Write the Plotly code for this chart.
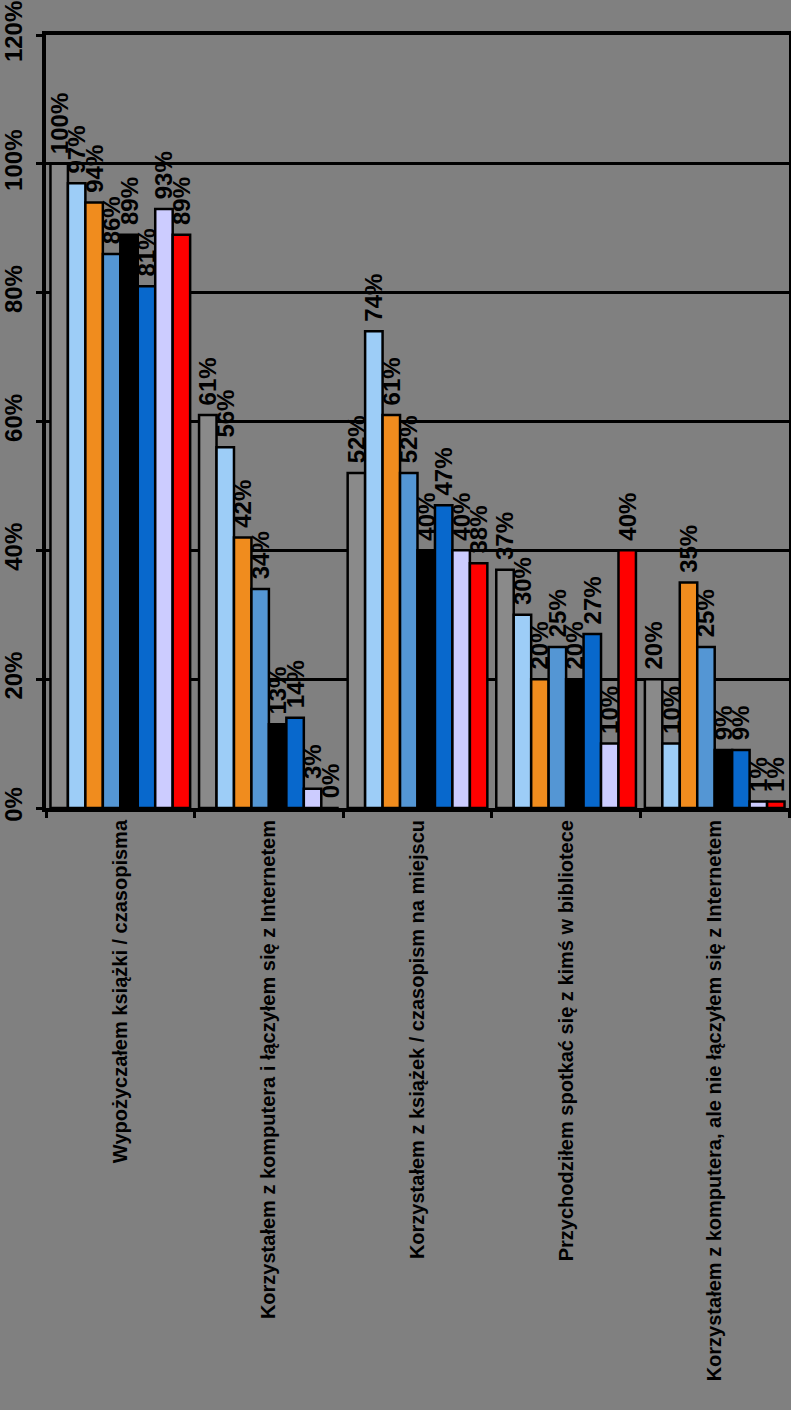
import plotly.graph_objects as go

categories = [
    "Wypożyczałem książki / czasopisma",
    "Korzystałem z komputera i łączyłem się z Internetem",
    "Korzystałem z książek / czasopism na miejscu",
    "Przychodziłem spotkać się z kimś w bibliotece",
    "Korzystałem z komputera, ale nie łączyłem się z Internetem",
]

series_names = ["Seria 1", "Seria 2", "Seria 3", "Seria 4", "Seria 5", "Seria 6", "Seria 7", "Seria 8"]
s1 = [100, 61, 52, 37, 20]
s2 = [97, 56, 74, 30, 10]
s3 = [94, 42, 61, 20, 35]
s4 = [86, 34, 52, 25, 25]
s5 = [89, 13, 40, 20, 9]
s6 = [81, 14, 47, 27, 9]
s7 = [93, 3, 40, 10, 1]
s8 = [89, 0, 38, 40, 1]
series_values = [s1, s2, s3, s4, s5, s6, s7, s8]
colors = ["#8a8a8a", "#9dcdf7", "#f08c1e", "#5496d4", "#000000", "#0868cc", "#ccccff", "#ff0000"]

y_ticks = [0, 20, 40, 60, 80, 100, 120]

fig = go.Figure()
for name, vals, col in zip(series_names, series_values, colors):
    fig.add_trace(go.Bar(
        x=categories, y=vals, name=name,
        marker=dict(color=col, line=dict(color="#000000", width=2.5)),
        text=[f"\u00a0{v}%" for v in vals],
        textposition="outside", textangle=-90,
        textfont=dict(family="Liberation Sans, Arial", size=24, color="#000000", weight="bold"),
        constraintext="none", cliponaxis=False,
    ))

fig.update_layout(
    width=791, height=1410,
    margin=dict(l=46, r=2, t=35, b=602),
    paper_bgcolor="#808080", plot_bgcolor="#808080",
    barmode="group", bargap=0.06, bargroupgap=0,
    showlegend=False,
    font=dict(family="Liberation Sans, Arial", color="#000000"),
)
fig.update_yaxes(
    range=[0, 120], tickvals=y_ticks, ticktext=[f"{v}%" for v in y_ticks],
    tickangle=-90, tickfont=dict(size=24, weight="bold", color="#000000"),
    showgrid=True, gridcolor="#000000", gridwidth=3,
    showline=True, linecolor="#000000", linewidth=4, mirror=True,
    ticks="outside", ticklen=6, tickwidth=3, tickcolor="#000000",
    ticklabelstandoff=4, zeroline=False, ticklabeloverflow="allow",
    automargin=False,
)
fig.update_xaxes(
    tickangle=-90, tickfont=dict(size=20, weight="bold", color="#000000"),
    showline=True, linecolor="#000000", linewidth=4, mirror=True,
    ticks="outside", tickson="boundaries", ticklen=6, tickwidth=3, tickcolor="#000000",
    automargin=False,
)

fig.write_html("out.html")
